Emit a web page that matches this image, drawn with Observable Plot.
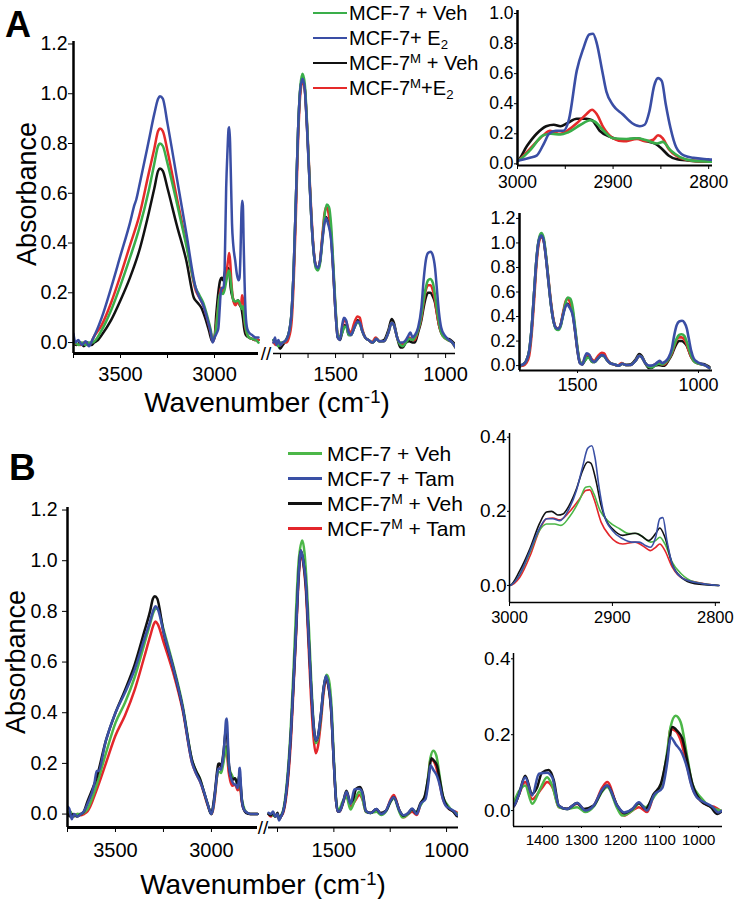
<!DOCTYPE html>
<html><head><meta charset="utf-8">
<script src="https://cdn.jsdelivr.net/npm/d3@7"></script>
<script src="https://cdn.jsdelivr.net/npm/@observablehq/plot@0.6"></script>
<style>
body{margin:0;background:#fff;}
#root{position:relative;width:735px;height:899px;overflow:hidden;font-family:'Liberation Sans',Arial,Helvetica,sans-serif;color:#000;background:#fff;}
.t{position:absolute;line-height:1;white-space:nowrap;}
sup{font-size:0.66em;vertical-align:0.5em;line-height:0;}
sub{font-size:0.66em;vertical-align:-0.3em;line-height:0;}
</style></head><body><div id="root"></div>
<script>
// ---------------- Panel A data (wavenumber, absorbance) ----------------
const A_keys = ["MCF-7 + Veh", "MCF-7+ E2", "MCF-7M + Veh", "MCF-7M+E2"];
const A_labels = ["MCF-7 + Veh", "MCF-7+ E<sub>2</sub>", "MCF-7<sup>M</sup> + Veh", "MCF-7<sup>M</sup>+E<sub>2</sub>"];
const A_colors = ["#3aae4a", "#3a4ea5", "#111111", "#e52a2a"];

const A_veh = [[3750,-0.01],[3740,0.0],[3725,-0.01],[3705,0.0],[3685,-0.01],[3665,0.0],[3650,0.0],[3600,0.05],[3550,0.13],[3500,0.23],[3450,0.34],[3400,0.46],[3350,0.61],[3320,0.72],[3300,0.79],[3290,0.80],[3275,0.79],[3250,0.72],[3200,0.56],[3150,0.39],[3100,0.22],[3080,0.19],[3060,0.16],[3040,0.11],[3020,0.05],[3010,0.01],[3000,0.02],[2987,0.09],[2973,0.19],[2965,0.2],[2955,0.195],[2947,0.21],[2934,0.26],[2924,0.29],[2919,0.28],[2910,0.22],[2900,0.17],[2886,0.165],[2875,0.17],[2865,0.157],[2854,0.135],[2848,0.146],[2840,0.09],[2830,0.045],[2816,0.02],[2800,0.015],[2780,0.01],[2766,0.0],
[1782,0.01],[1770,0.0],[1760,-0.015],[1750,0.0],[1740,0.0],[1725,0.01],[1712,0.04],[1700,0.12],[1690,0.3],[1680,0.58],[1670,0.86],[1660,1.03],[1650,1.08],[1640,1.04],[1630,0.89],[1620,0.69],[1610,0.5],[1600,0.37],[1590,0.30],[1580,0.29],[1570,0.32],[1560,0.41],[1550,0.51],[1540,0.555],[1530,0.545],[1520,0.47],[1510,0.31],[1500,0.14],[1490,0.03],[1480,0.02],[1470,0.04],[1458,0.065],[1450,0.06],[1440,0.03],[1430,0.03],[1415,0.06],[1400,0.08],[1390,0.075],[1380,0.05],[1365,0.02],[1350,0.01],[1330,0.0],[1315,0.015],[1300,0.005],[1280,0.005],[1260,0.04],[1245,0.08],[1235,0.07],[1220,0.02],[1205,-0.01],[1195,-0.015],[1180,0.0],[1165,0.015],[1150,0.01],[1140,0.02],[1125,0.05],[1110,0.11],[1100,0.17],[1090,0.22],[1080,0.25],[1070,0.255],[1058,0.24],[1048,0.19],[1040,0.14],[1030,0.08],[1020,0.04],[1005,0.02],[990,0.01],[970,0.0],[955,-0.02]];

const A_e2 = [[3750,0.035],[3740,0.0],[3725,0.01],[3705,-0.01],[3685,0.005],[3668,-0.015],[3650,0.01],[3600,0.10],[3550,0.22],[3500,0.35],[3450,0.48],[3425,0.555],[3416,0.575],[3400,0.63],[3350,0.81],[3320,0.92],[3300,0.98],[3290,0.99],[3275,0.98],[3250,0.88],[3200,0.66],[3150,0.44],[3100,0.22],[3080,0.18],[3060,0.15],[3040,0.10],[3020,0.04],[3010,0.0],[3000,0.02],[2987,0.04],[2980,0.055],[2972,0.14],[2967,0.2],[2960,0.22],[2952,0.22],[2946,0.3],[2938,0.62],[2931,0.77],[2925,0.86],[2921,0.865],[2917,0.8],[2912,0.64],[2907,0.48],[2900,0.39],[2890,0.33],[2880,0.27],[2872,0.25],[2867,0.26],[2862,0.35],[2857,0.52],[2853,0.57],[2849,0.55],[2845,0.4],[2840,0.24],[2834,0.11],[2826,0.056],[2816,0.04],[2800,0.03],[2780,0.02],[2766,0.02],
[1782,0.0],[1775,0.02],[1768,-0.01],[1760,0.01],[1750,-0.01],[1740,0.0],[1725,0.01],[1712,0.04],[1700,0.12],[1690,0.3],[1680,0.58],[1670,0.86],[1660,1.02],[1650,1.06],[1640,1.02],[1630,0.87],[1620,0.68],[1610,0.5],[1600,0.37],[1590,0.31],[1580,0.30],[1570,0.33],[1560,0.41],[1550,0.48],[1543,0.50],[1535,0.48],[1520,0.41],[1510,0.28],[1500,0.12],[1490,0.02],[1480,0.01],[1470,0.07],[1462,0.10],[1452,0.09],[1440,0.04],[1430,0.03],[1415,0.06],[1400,0.085],[1390,0.08],[1380,0.05],[1365,0.02],[1350,0.01],[1330,0.0],[1315,0.015],[1300,0.005],[1280,0.005],[1260,0.04],[1245,0.08],[1235,0.07],[1220,0.02],[1205,0.0],[1195,0.0],[1180,0.01],[1168,0.03],[1160,0.04],[1150,0.02],[1140,0.03],[1125,0.06],[1110,0.14],[1100,0.25],[1090,0.33],[1080,0.36],[1068,0.365],[1058,0.35],[1048,0.3],[1040,0.22],[1030,0.12],[1020,0.06],[1005,0.03],[990,0.015],[970,0.0],[955,-0.02]];

const A_mVeh = [[3750,0.0],[3735,-0.01],[3715,0.0],[3695,-0.015],[3675,0.0],[3655,-0.01],[3640,0.0],[3620,0.01],[3600,0.03],[3550,0.09],[3500,0.17],[3450,0.26],[3400,0.37],[3350,0.52],[3320,0.62],[3300,0.69],[3290,0.70],[3275,0.69],[3250,0.62],[3200,0.47],[3150,0.33],[3110,0.18],[3090,0.16],[3070,0.14],[3050,0.10],[3030,0.05],[3012,0.005],[3000,0.02],[2990,0.12],[2980,0.2],[2970,0.25],[2962,0.26],[2955,0.25],[2948,0.27],[2938,0.3],[2928,0.3],[2922,0.29],[2914,0.22],[2903,0.18],[2893,0.16],[2882,0.165],[2875,0.17],[2865,0.15],[2856,0.135],[2849,0.10],[2842,0.056],[2833,0.03],[2816,0.02],[2800,0.015],[2780,0.01],[2766,0.01],
[1782,0.01],[1770,0.0],[1760,-0.01],[1752,-0.025],[1740,-0.01],[1725,0.01],[1712,0.04],[1700,0.12],[1690,0.3],[1680,0.58],[1670,0.86],[1660,1.02],[1650,1.06],[1640,1.02],[1630,0.87],[1620,0.68],[1610,0.5],[1600,0.37],[1590,0.31],[1580,0.30],[1570,0.33],[1560,0.42],[1550,0.49],[1545,0.505],[1535,0.49],[1520,0.42],[1510,0.28],[1500,0.12],[1490,0.02],[1480,0.01],[1470,0.04],[1458,0.07],[1450,0.065],[1440,0.03],[1430,0.03],[1415,0.06],[1400,0.09],[1390,0.085],[1380,0.05],[1365,0.02],[1350,0.01],[1330,0.0],[1315,0.015],[1300,0.005],[1280,0.01],[1260,0.05],[1245,0.095],[1235,0.08],[1220,0.02],[1205,-0.02],[1195,-0.02],[1180,0.0],[1165,0.005],[1150,0.0],[1140,0.0],[1125,0.04],[1110,0.09],[1100,0.14],[1090,0.18],[1080,0.2],[1070,0.2],[1058,0.185],[1048,0.16],[1040,0.12],[1030,0.07],[1020,0.04],[1005,0.02],[990,0.015],[980,0.012],[970,0.005],[955,-0.01]];

const A_mE2 = [[3750,0.0],[3735,-0.005],[3715,-0.01],[3695,0.0],[3675,-0.01],[3655,0.0],[3650,0.01],[3600,0.07],[3550,0.16],[3500,0.27],[3450,0.39],[3400,0.51],[3350,0.68],[3320,0.78],[3300,0.85],[3290,0.86],[3275,0.85],[3250,0.77],[3200,0.58],[3150,0.40],[3100,0.21],[3080,0.18],[3060,0.15],[3040,0.10],[3020,0.04],[3010,0.005],[3000,0.02],[2987,0.1],[2973,0.19],[2966,0.22],[2957,0.2],[2948,0.22],[2938,0.27],[2928,0.33],[2922,0.36],[2917,0.33],[2910,0.24],[2900,0.17],[2889,0.15],[2875,0.165],[2865,0.15],[2858,0.16],[2853,0.19],[2848,0.17],[2842,0.10],[2833,0.05],[2816,0.02],[2800,0.015],[2780,0.01],[2766,0.01],
[1782,0.0],[1770,-0.01],[1760,0.0],[1750,-0.01],[1740,0.0],[1725,0.0],[1712,0.02],[1700,0.08],[1690,0.25],[1680,0.52],[1670,0.82],[1660,1.0],[1650,1.05],[1640,1.02],[1630,0.88],[1620,0.7],[1610,0.52],[1600,0.38],[1590,0.31],[1580,0.30],[1570,0.33],[1560,0.43],[1550,0.52],[1542,0.545],[1532,0.52],[1520,0.44],[1510,0.29],[1500,0.13],[1490,0.03],[1480,0.02],[1470,0.06],[1460,0.09],[1452,0.085],[1440,0.05],[1430,0.04],[1415,0.08],[1400,0.105],[1390,0.1],[1380,0.06],[1365,0.02],[1350,0.01],[1335,0.0],[1318,0.02],[1300,0.005],[1280,0.005],[1260,0.04],[1245,0.08],[1235,0.07],[1220,0.02],[1205,-0.005],[1195,-0.005],[1180,0.01],[1165,0.02],[1150,0.01],[1140,0.01],[1125,0.05],[1110,0.1],[1100,0.16],[1090,0.21],[1080,0.23],[1070,0.23],[1058,0.21],[1048,0.17],[1040,0.12],[1030,0.07],[1020,0.04],[1005,0.02],[990,0.01],[970,0.0],[955,-0.02]];

// ---------------- Panel B data ----------------
const B_keys = ["MCF-7 + Veh", "MCF-7 + Tam", "MCF-7M + Veh", "MCF-7M + Tam"];
const B_labels = ["MCF-7 + Veh", "MCF-7 + Tam", "MCF-7<sup>M</sup> + Veh", "MCF-7<sup>M</sup> + Tam"];
const B_colors = ["#4cb748", "#3a50a5", "#111111", "#e3262b"];

const B_veh = [[3750,0.0],[3735,0.01],[3720,-0.01],[3700,0.0],[3680,0.0],[3665,0.005],[3646,0.02],[3596,0.12],[3550,0.24],[3500,0.36],[3450,0.44],[3400,0.54],[3350,0.67],[3320,0.75],[3300,0.80],[3290,0.81],[3280,0.81],[3250,0.73],[3200,0.59],[3150,0.43],[3100,0.21],[3080,0.17],[3060,0.14],[3040,0.09],[3020,0.04],[3005,0.005],[3000,0.0],[2990,0.03],[2980,0.09],[2971,0.148],[2964,0.166],[2956,0.166],[2950,0.162],[2942,0.184],[2932,0.23],[2926,0.265],[2922,0.267],[2918,0.247],[2912,0.202],[2903,0.171],[2893,0.153],[2884,0.14],[2876,0.14],[2870,0.13],[2863,0.117],[2858,0.121],[2854,0.13],[2849,0.112],[2842,0.063],[2833,0.031],[2820,0.009],[2797,0.0],[2760,0.0],
[1790,0.0],[1780,0.0],[1770,-0.005],[1760,-0.01],[1750,0.0],[1743,-0.02],[1735,-0.005],[1725,0.015],[1718,0.05],[1705,0.16],[1692,0.33],[1680,0.55],[1668,0.8],[1656,1.0],[1640,1.08],[1630,1.03],[1620,0.9],[1610,0.72],[1600,0.52],[1590,0.36],[1580,0.28],[1570,0.3],[1558,0.38],[1545,0.5],[1532,0.55],[1522,0.53],[1510,0.42],[1500,0.22],[1490,0.06],[1483,0.02],[1475,0.022],[1461,0.05],[1444,0.066],[1426,0.018],[1406,0.057],[1388,0.088],[1375,0.066],[1358,0.009],[1337,0.004],[1311,0.009],[1290,-0.004],[1269,0.01],[1247,0.05],[1234,0.062],[1208,0.005],[1196,-0.013],[1170,0.0],[1153,0.018],[1136,0.009],[1115,0.035],[1093,0.08],[1080,0.16],[1072,0.22],[1059,0.25],[1046,0.233],[1029,0.14],[1016,0.07],[995,0.035],[970,0.01],[944,0.0]];

const B_tam = [[3750,0.03],[3740,0.02],[3728,-0.02],[3715,0.0],[3700,-0.01],[3680,0.0],[3665,0.01],[3646,0.04],[3610,0.12],[3598,0.17],[3590,0.17],[3550,0.29],[3500,0.40],[3450,0.48],[3400,0.57],[3350,0.69],[3320,0.76],[3300,0.81],[3292,0.82],[3280,0.81],[3250,0.72],[3200,0.58],[3150,0.42],[3100,0.2],[3080,0.16],[3060,0.13],[3040,0.09],[3020,0.04],[3005,0.005],[3000,0.0],[2990,0.03],[2980,0.094],[2971,0.153],[2964,0.18],[2958,0.18],[2951,0.175],[2942,0.207],[2935,0.256],[2929,0.32],[2924,0.37],[2920,0.377],[2917,0.346],[2913,0.265],[2908,0.19],[2900,0.148],[2890,0.126],[2881,0.117],[2874,0.117],[2868,0.108],[2863,0.103],[2858,0.13],[2854,0.18],[2851,0.183],[2847,0.12],[2841,0.05],[2831,0.018],[2813,0.005],[2796,0.0],[2760,0.0],
[1790,0.005],[1780,0.0],[1770,0.01],[1760,-0.01],[1750,0.0],[1743,-0.025],[1735,-0.01],[1725,0.01],[1718,0.04],[1705,0.14],[1690,0.33],[1680,0.5],[1668,0.72],[1656,0.95],[1646,1.04],[1636,1.0],[1624,0.91],[1613,0.72],[1602,0.52],[1590,0.35],[1580,0.29],[1570,0.31],[1558,0.39],[1545,0.5],[1535,0.546],[1525,0.515],[1513,0.43],[1500,0.2],[1490,0.05],[1483,0.01],[1475,0.01],[1461,0.04],[1444,0.088],[1426,0.04],[1409,0.097],[1388,0.1],[1375,0.088],[1358,0.013],[1337,0.004],[1311,0.02],[1290,0.0],[1269,0.013],[1247,0.055],[1234,0.066],[1208,0.012],[1191,-0.005],[1170,0.004],[1153,0.022],[1132,0.0],[1115,0.04],[1093,0.06],[1080,0.13],[1072,0.193],[1059,0.175],[1042,0.15],[1029,0.11],[1021,0.075],[1005,0.035],[986,0.022],[965,0.01],[950,-0.005],[939,0.0]];

const B_mVeh = [[3750,0.0],[3735,-0.01],[3720,0.0],[3700,-0.01],[3680,0.0],[3665,0.01],[3646,0.05],[3596,0.15],[3550,0.29],[3500,0.40],[3450,0.49],[3400,0.59],[3350,0.72],[3320,0.80],[3305,0.85],[3295,0.86],[3282,0.85],[3250,0.72],[3200,0.58],[3150,0.42],[3100,0.21],[3080,0.17],[3060,0.14],[3040,0.09],[3020,0.04],[3005,0.005],[3000,0.0],[2990,0.04],[2980,0.10],[2971,0.166],[2964,0.198],[2959,0.2],[2953,0.19],[2948,0.193],[2942,0.216],[2935,0.26],[2929,0.31],[2924,0.333],[2921,0.33],[2916,0.283],[2911,0.216],[2906,0.175],[2900,0.153],[2890,0.135],[2878,0.141],[2871,0.132],[2865,0.121],[2858,0.14],[2854,0.155],[2849,0.13],[2842,0.058],[2833,0.022],[2820,0.005],[2797,0.0],[2760,0.0],
[1790,0.0],[1780,-0.005],[1770,0.005],[1760,-0.01],[1750,0.005],[1743,-0.02],[1735,-0.01],[1725,0.01],[1718,0.04],[1705,0.14],[1690,0.33],[1680,0.5],[1668,0.72],[1656,0.95],[1646,1.04],[1636,1.0],[1624,0.9],[1613,0.72],[1602,0.52],[1590,0.35],[1580,0.29],[1570,0.31],[1558,0.39],[1545,0.5],[1535,0.54],[1525,0.51],[1513,0.42],[1500,0.2],[1490,0.05],[1483,0.01],[1475,0.01],[1461,0.04],[1444,0.092],[1426,0.044],[1414,0.06],[1401,0.1],[1384,0.107],[1371,0.08],[1358,0.013],[1337,0.004],[1311,0.02],[1294,0.004],[1269,0.013],[1247,0.053],[1234,0.066],[1208,0.013],[1191,-0.007],[1170,0.004],[1153,0.02],[1136,0.004],[1115,0.044],[1097,0.07],[1080,0.15],[1067,0.22],[1055,0.21],[1042,0.19],[1029,0.13],[1016,0.07],[995,0.026],[969,0.009],[952,-0.009],[939,0.0]];

const B_mTam = [[3750,0.0],[3735,0.0],[3720,-0.01],[3700,0.0],[3680,-0.005],[3665,0.0],[3646,0.01],[3596,0.10],[3550,0.20],[3500,0.31],[3450,0.39],[3400,0.49],[3350,0.62],[3320,0.70],[3300,0.75],[3292,0.76],[3280,0.75],[3250,0.68],[3200,0.56],[3150,0.41],[3100,0.2],[3080,0.16],[3060,0.13],[3040,0.085],[3020,0.035],[3005,0.005],[3000,0.0],[2990,0.022],[2980,0.08],[2971,0.148],[2964,0.18],[2958,0.182],[2951,0.177],[2942,0.198],[2932,0.233],[2926,0.256],[2922,0.258],[2918,0.234],[2911,0.171],[2903,0.135],[2890,0.112],[2878,0.117],[2871,0.108],[2863,0.094],[2858,0.103],[2854,0.112],[2849,0.094],[2842,0.05],[2831,0.018],[2797,0.0],[2760,0.0],
[1790,0.0],[1780,-0.01],[1770,0.0],[1760,-0.01],[1750,0.0],[1743,-0.02],[1735,-0.01],[1725,0.005],[1718,0.03],[1705,0.12],[1690,0.3],[1680,0.48],[1668,0.7],[1656,0.93],[1646,1.03],[1636,0.99],[1624,0.88],[1613,0.68],[1602,0.47],[1590,0.3],[1580,0.24],[1570,0.27],[1558,0.36],[1545,0.48],[1535,0.53],[1525,0.51],[1513,0.42],[1500,0.2],[1490,0.05],[1483,0.01],[1475,0.01],[1461,0.04],[1444,0.075],[1426,0.03],[1401,0.06],[1388,0.075],[1371,0.053],[1358,0.009],[1337,0.005],[1311,0.018],[1290,0.0],[1269,0.012],[1247,0.06],[1234,0.075],[1208,0.01],[1191,-0.013],[1170,0.0],[1153,0.009],[1132,-0.004],[1115,0.04],[1093,0.07],[1080,0.15],[1072,0.215],[1059,0.21],[1046,0.185],[1029,0.114],[1016,0.06],[995,0.026],[975,0.013],[961,0.01],[939,-0.004]];

// ---------------- tick values ----------------
const mainYTicks = [0, 0.2, 0.4, 0.6, 0.8, 1.0, 1.2];
const A_mainXTicks = [3750, 3500, 3250, 3000, 1750, 1625, 1500, 1375, 1250, 1125, 1000];
const B_mainXTicks = [3750, 3500, 3250, 3000, 1750, 1500, 1250, 1000];
const mainXLabels = [3500, 3000, 1500, 1000];
const chYTicksA = [0, 0.2, 0.4, 0.6, 0.8, 1.0];
const chXTicksA = [3000, 2950, 2900, 2850, 2800];
const chXLabels = [3000, 2900, 2800];
const fpXTicksA = [1500, 1000];
const smallYTicks = [0, 0.2, 0.4];
const fpXTicksB = [1400, 1300, 1200, 1100, 1000];

// ---------------- helpers ----------------
const font = "'Liberation Sans', Arial, Helvetica, sans-serif";
const root = document.getElementById("root");
const fmt1 = d3.format(".1f");

function tidy(keys, arrays, order) {
  const out = [];
  for (const i of order) for (const [w, v] of arrays[i]) out.push({series: keys[i], w, v, seg: w > 2300 ? "hi" : "lo"});
  return out;
}

function spectrum(c) {
  const xd = c.xDomain, yd = c.yDomain;
  const broken = xd.length === 4;
  const rows = broken ? c.data : c.data.filter(d => d.w <= xd[0] + 30 && d.w >= xd[1] - 30);
  const segs = broken ? [[xd[0], xd[1], c.axisW[1]], [xd[2], xd[3], c.axisW[2]]] : [[xd[0], xd[1], c.axisW[1]]];
  const marks = [
    Plot.line(rows, {x: "w", y: "v", z: d => d.series + d.seg, stroke: "series", strokeWidth: c.lw, curve: "monotone-x", clip: true, strokeLinejoin: "round"}),
    Plot.ruleX([xd[0]], {y1: yd[0], y2: yd[1], strokeWidth: c.axisW[0]}),
    ...segs.map(([a, b, sw]) => Plot.ruleY([yd[0]], {x1: a, x2: b, strokeWidth: sw})),
    Plot.axisX({ticks: c.xTicks, tickFormat: d => c.xLabels.includes(d) ? String(d) : "", tickSize: c.xTick, tickPadding: c.xPad, fontSize: c.xFont, label: null}),
    Plot.axisY({ticks: c.yTicks, tickFormat: d => fmt1(d), tickSize: c.yTick, tickPadding: c.yPad, fontSize: c.yFont, label: null})
  ];
  if (broken) marks.push(Plot.text([(xd[1] + xd[2]) / 2], {x: d => d, y: () => yd[0], text: () => "//", fontSize: 19, lineAnchor: "middle", textAnchor: "middle"}));
  const svg = Plot.plot({
    width: c.width, height: c.height,
    marginTop: c.mt, marginBottom: c.mb, marginLeft: c.ml, marginRight: c.mr,
    x: {type: "linear", domain: xd, range: c.xRange},
    y: {domain: yd},
    color: {domain: c.keys, range: c.colors},
    style: {fontFamily: font, background: "transparent", overflow: "visible", color: "#000"},
    marks
  });
  svg.style.position = "absolute";
  svg.style.left = c.left + "px";
  svg.style.top = c.top + "px";
  root.appendChild(svg);
}

function text(html, x, y, size, extra) {
  const t = document.createElement("div");
  t.className = "t";
  t.innerHTML = html;
  t.style.left = x + "px";
  t.style.top = y + "px";
  t.style.fontSize = size + "px";
  t.style.transform = extra || "translateY(-50%)";
  root.appendChild(t);
  return t;
}

function legend(labels, colors, o) {
  labels.forEach((lab, i) => {
    const y = o.top + i * o.step;
    const ln = document.createElement("div");
    ln.style.cssText = `position:absolute;left:${o.x1}px;top:${y - o.lw / 2}px;width:${o.x2 - o.x1}px;height:${o.lw}px;background:${colors[i]}`;
    root.appendChild(ln);
    text(lab, o.tx, y, o.fs);
  });
}

// ---------------- Panel A ----------------
const A_data = tidy(A_keys, [A_veh, A_e2, A_mVeh, A_mE2], [2, 3, 0, 1]);
spectrum({data: A_data, keys: A_keys, colors: A_colors, left: 0, top: 0, width: 470, height: 400,
  mt: 41, mb: 47, ml: 73, mr: 15, xDomain: [3750, 2766, 1782, 955], xRange: [73, 258, 273, 455], yDomain: [-0.044, 1.21],
  xTicks: A_mainXTicks, xLabels: mainXLabels, yTicks: mainYTicks, lw: 2.5, axisW: [2.5, 3, 1.5],
  xTick: 5, xPad: 8, xFont: 20, yTick: 5, yPad: 1, yFont: 19.5});
spectrum({data: A_data, keys: A_keys, colors: A_colors, left: 470, top: 0, width: 265, height: 200,
  mt: 10, mb: 35, ml: 47, mr: 23, xDomain: [3000, 2796], xRange: [47, 242], yDomain: [-0.011, 1.02],
  xTicks: chXTicksA, xLabels: chXLabels, yTicks: chYTicksA, lw: 2.6, axisW: [2.5, 2],
  xTick: 4, xPad: 6, xFont: 17.5, yTick: 3, yPad: 1, yFont: 17.5});
spectrum({data: A_data, keys: A_keys, colors: A_colors, left: 470, top: 200, width: 265, height: 220,
  mt: 13, mb: 50, ml: 49, mr: 23, xDomain: [1740, 942], xRange: [49, 242], yDomain: [-0.04, 1.24],
  xTicks: fpXTicksA, xLabels: fpXTicksA, yTicks: mainYTicks, lw: 2.6, axisW: [2.5, 2],
  xTick: 3, xPad: 5, xFont: 18, yTick: 3, yPad: 1, yFont: 18});

// ---------------- Panel B ----------------
const B_data = tidy(B_keys, [B_veh, B_tam, B_mVeh, B_mTam], [3, 0, 2, 1]);
spectrum({data: B_data, keys: B_keys, colors: B_colors, left: 0, top: 430, width: 470, height: 440,
  mt: 77, mb: 43, ml: 67, mr: 12, xDomain: [3750, 2760, 1790, 947], xRange: [67, 257, 268, 458], yDomain: [-0.053, 1.21],
  xTicks: B_mainXTicks, xLabels: mainXLabels, yTicks: mainYTicks, lw: 2.5, axisW: [2.5, 3, 2],
  xTick: 5, xPad: 10, xFont: 20, yTick: 5, yPad: 5, yFont: 19.5});
spectrum({data: B_data, keys: B_keys, colors: B_colors, left: 470, top: 430, width: 265, height: 200,
  mt: 3, mb: 28, ml: 39, mr: 15, xDomain: [3000, 2795], xRange: [39, 250], yDomain: [-0.046, 0.41],
  xTicks: [3000, 2900, 2800], xLabels: chXLabels, yTicks: smallYTicks, lw: 1.6, axisW: [1.5, 1.5],
  xTick: 4, xPad: 5, xFont: 16.5, yTick: 2, yPad: 1, yFont: 19});
spectrum({data: B_data, keys: B_keys, colors: B_colors, left: 470, top: 630, width: 265, height: 240,
  mt: 23, mb: 44, ml: 43, mr: 13, xDomain: [1474, 939], xRange: [43, 252], yDomain: [-0.042, 0.414],
  xTicks: fpXTicksB, xLabels: fpXTicksB, yTicks: smallYTicks, lw: 2.5, axisW: [1.5, 1.5],
  xTick: 2, xPad: 6, xFont: 15, yTick: 2, yPad: 1, yFont: 19});

// ---------------- texts ----------------
text("<b>A</b>", 5, 25, 36);
text("<b>B</b>", 9, 467, 37);
text("Absorbance", 27, 194, 27, "translate(-50%,-50%) rotate(-90deg)");
text("Absorbance", 16, 662, 27, "translate(-50%,-50%) rotate(-90deg)");
text("Wavenumber (cm<sup>-1</sup>)", 267, 403, 28, "translate(-50%,-50%)");
text("Wavenumber (cm<sup>-1</sup>)", 263, 885, 28, "translate(-50%,-50%)");
legend(A_labels, A_colors, {top: 13, step: 25, x1: 313, x2: 347, tx: 349, fs: 20, lw: 2.2});
legend(B_labels, B_colors, {top: 453, step: 25, x1: 288, x2: 322, tx: 327, fs: 21, lw: 3});
</script></body></html>
